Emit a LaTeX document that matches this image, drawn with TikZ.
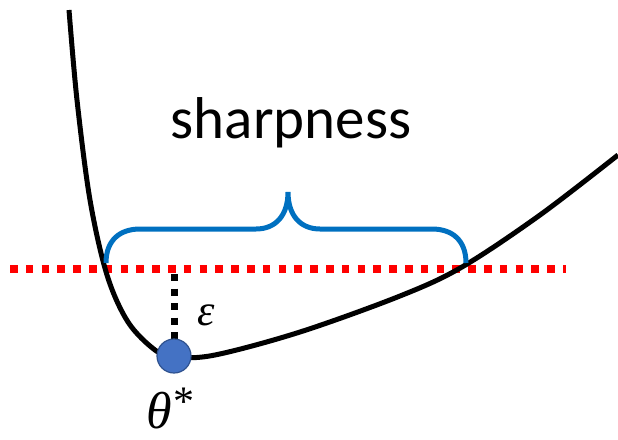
\documentclass[tikz,border=0pt]{standalone}
\usepackage{fontspec}
\setmainfont{Carlito}
\newfontfamily\grk{Liberation Serif}
\definecolor{bracecol}{HTML}{0070C0}
\definecolor{dotfill}{HTML}{4472C4}
\definecolor{dotedge}{HTML}{2F528F}
\begin{document}
\begin{tikzpicture}[x=1pt,y=-1pt,
  curvestyle/.style={line width=5pt,black},
  redline/.style={line width=7.5pt,red,dash pattern=on 7.5pt off 8.3pt},
  epsline/.style={line width=7pt,black,dash pattern=on 7pt off 7.5pt},
  bracestyle/.style={line width=5pt,bracecol},
  labeltext/.style={inner sep=0pt}]
\useasboundingbox (0,0) rectangle (618,439);
\coordinate (rl) at (10,269);
\coordinate (rr) at (566,269);
\draw[redline] (rl) -- (rr);
\draw[curvestyle] plot[smooth,tension=0.55] coordinates {(69,10) (77,100) (90,200) (107,275) (128,322) (155,350) (175,357) (215,355) (300,332) (400,296) (462,267) (540,215) (618,155)};
\coordinate (et) at (174,274);
\coordinate (eb) at (174,345);
\draw[epsline] (et) -- (eb);
\draw[bracestyle] (106,263) .. controls (106,240) and (120,229) .. (140,229) -- (256,229) .. controls (276,229) and (288,215) .. (288,192)
  .. controls (288,215) and (300,229) .. (320,229) -- (432,229) .. controls (452,229) and (466,240) .. (466,263);
\node[circle,minimum size=34pt,inner sep=0pt,fill=dotfill,draw=dotedge,line width=1.2pt] (opt) at (174,356) {};
\node[labeltext] (sharp) at (291,123) {\fontsize{59}{59}\selectfont sharpness};
\node[labeltext] (eps) at (206,315) {\grk\itshape\fontsize{44}{44}\selectfont ε};
\node[labeltext,anchor=base west] (theta) at (146,428) {\grk\itshape\fontsize{52}{52}\selectfont θ\kern2pt\raisebox{13pt}{\fontsize{42}{42}\selectfont\upshape *}};
\end{tikzpicture}
\end{document}
